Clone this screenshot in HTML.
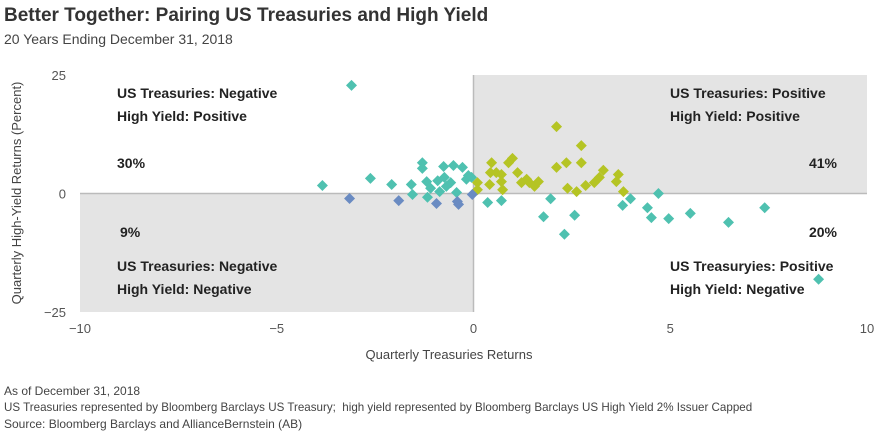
<!DOCTYPE html>
<html><head><meta charset="utf-8"><style>
body{margin:0;background:#fff;width:880px;height:431px;overflow:hidden;font-family:"Liberation Sans",sans-serif;color:#333}
.t{position:absolute;white-space:nowrap}
</style></head><body>
<div class="t" style="left:4px;top:5px;font-size:19px;font-weight:bold;color:#333">Better Together: Pairing US Treasuries and High Yield</div>
<div class="t" style="left:4px;top:31px;font-size:14px;color:#444">20 Years Ending December 31, 2018</div>
<svg id="c" width="880" height="431" style="position:absolute;left:0;top:0"></svg>
<div class="t" style="left:4px;top:384px;font-size:12px;color:#444">As of December 31, 2018</div>
<div class="t" style="left:4px;top:401px;font-size:11.6px;color:#444">US Treasuries represented by Bloomberg Barclays US Treasury;&nbsp; high yield represented by Bloomberg Barclays US High Yield 2% Issuer Capped</div>
<div class="t" style="left:4px;top:417px;font-size:12px;color:#444">Source: Bloomberg Barclays and AllianceBernstein (AB)</div>
<script>
const xTicks=[-10,-5,0,5,10];
const yTicks=[25,0,-25];
const blueX=[-3.15,-1.9,-0.94,-0.41,-0.38,-0.03];
const blueY=[-1.05,-1.5,-2.1,-1.7,-2.3,-0.2];
const tealX=[-3.1,-3.84,-2.62,-2.08,-1.58,-1.55,-1.3,-1.3,-1.19,-1.17,-1.09,-0.91,-0.86,-0.76,-0.74,-0.69,-0.58,-0.51,-0.43,-0.28,-0.18,-0.13,-0.05,0.36,0.71,1.96,1.78,2.57,2.31,3.79,3.99,4.7,4.42,4.52,4.96,5.51,6.48,7.4,8.77];
const tealY=[22.8,1.7,3.2,1.9,1.9,-0.2,6.5,5.3,2.5,-0.8,1.1,2.7,0.4,5.7,3.4,1.5,2.3,5.9,0.2,5.5,3.0,3.8,3.4,-1.9,-1.5,-1.1,-4.9,-4.6,-8.6,-2.5,-1.1,0,-3.0,-5.1,-5.3,-4.2,-6.1,-3.0,-18.1];
const greenX=[0.1,0.1,0.41,0.46,0.43,0.58,0.71,0.71,0.74,0.89,0.99,1.12,1.22,1.35,1.42,1.55,1.65,2.11,2.11,2.36,2.74,2.74,2.39,2.62,2.85,3.07,3.2,3.3,3.68,3.63,3.81];
const greenY=[2.3,0.8,1.9,6.5,4.4,4.4,4.0,2.5,0.8,6.5,7.4,4.4,2.3,3.0,2.3,1.5,2.5,14.1,5.5,6.5,10.1,6.5,1.1,0.4,1.7,2.3,3.4,4.9,4.0,2.5,0.4];
const X0=80,X1=867,Y0=312,Y1=75;
const sx=v=>X0+(v+10)/20*(X1-X0);
const sy=v=>Y0-(v+25)/50*(Y0-Y1);
const svg=document.getElementById('c');const NS='http://www.w3.org/2000/svg';
function mk(tag,a,p){const e=document.createElementNS(NS,tag);for(const k in a)e.setAttribute(k,a[k]);(p||svg).appendChild(e);return e;}
let r=mk('rect',{x:sx(0),y:sy(25),width:sx(10)-sx(0),height:sy(0)-sy(25),fill:'#e4e4e4'});

r=mk('rect',{x:sx(-10),y:sy(0),width:sx(0)-sx(-10),height:sy(-25)-sy(0),fill:'#e4e4e4'});

let l=mk('line',{x1:sx(-10),x2:sx(10),y1:sy(0),y2:sy(0),stroke:'#bbb','stroke-width':1.5});

l=mk('line',{x1:sx(0),x2:sx(0),y1:sy(25),y2:sy(-25),stroke:'#bbb','stroke-width':1.5});

xTicks.forEach(v=>{const t=mk('text',{x:sx(v),y:333,'text-anchor':'middle','font-size':13,fill:'#555'});t.textContent=v<0?'\u2212'+(-v):v;
});
yTicks.forEach(v=>{const t=mk('text',{x:66,y:sy(v)+5,'text-anchor':'end','font-size':13,fill:'#555'});t.textContent=v<0?'\u2212'+(-v):v;
});
let t=mk('text',{x:449,y:359,'text-anchor':'middle','font-size':13,fill:'#444'});t.textContent='Quarterly Treasuries Returns';

t=mk('text',{x:0,y:0,'text-anchor':'middle','font-size':13,fill:'#444',transform:'translate(21,193) rotate(-90)'});t.textContent='Quarterly High-Yield Returns (Percent)';

const labels=[[117,98,'start','US Treasuries: Negative'],[117,121,'start','High Yield: Positive'],[117,168,'start','30%'],[120,237,'start','9%'],[117,271,'start','US Treasuries: Negative'],[117,294,'start','High Yield: Negative'],[670,98,'start','US Treasuries: Positive'],[670,121,'start','High Yield: Positive'],[837,168,'end','41%'],[837,237,'end','20%'],[670,271,'start','US Treasuryies: Positive'],[670,294,'start','High Yield: Negative']];
labels.forEach(a=>{const e=mk('text',{x:a[0],y:a[1],'text-anchor':a[2],'font-size':14,'font-weight':'bold',fill:'#222'});e.textContent=a[3];
});
function pts(xs,ys,col,name){xs.forEach((v,i)=>{const cx=sx(v),cy=sy(ys[i]),s=5.5;
const p=mk('polygon',{points:`${cx},${cy-s} ${cx+s},${cy} ${cx},${cy+s} ${cx-s},${cy}`,fill:col});
});}
pts(tealX,tealY,'#4fc1b0','point-teal');
pts(greenX,greenY,'#b5c424','point-green');
pts(blueX,blueY,'#6a8bc2','point-blue');
</script>
</body></html>
